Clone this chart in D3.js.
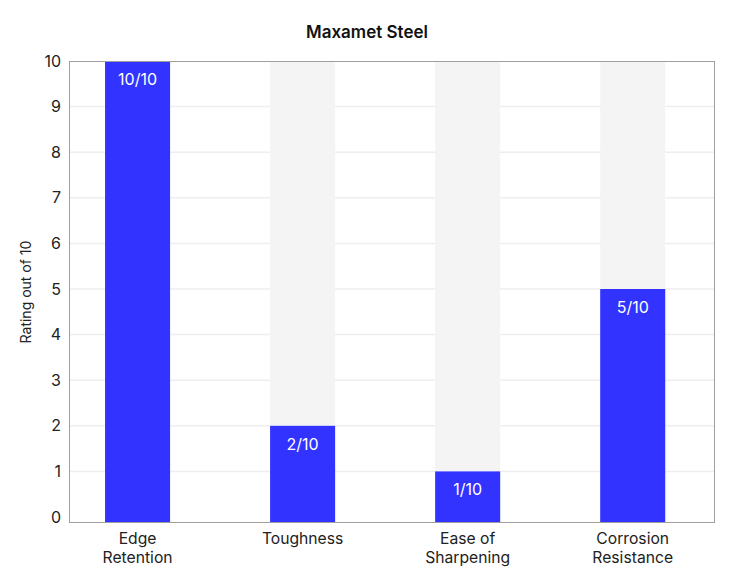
<!DOCTYPE html>
<html>
<head>
<meta charset="utf-8">
<script src="https://cdn.jsdelivr.net/npm/d3@7"></script>
<style>
  html, body { margin: 0; padding: 0; background: #fff; }
  svg { display: block; font-family: Inter, "Noto Sans", sans-serif; }
</style>
</head>
<body>
<svg id="chart" width="736" height="584"></svg>
<script>
const categories = [["Edge", "Retention"], ["Toughness"], ["Ease of", "Sharpening"], ["Corrosion", "Resistance"]];
const ratings = [10, 2, 1, 5];
const maxRating = 10;
const yTicks = [0, 1, 2, 3, 4, 5, 6, 7, 8, 9, 10];
const title = "Maxamet Steel";
const yTitle = "Rating out of 10";

const W = 736, H = 584;
const plot = { left: 69, right: 715, top: 61, bottom: 523 };
const zeroPad = 6;

const svg = d3.select("#chart");
const keys = categories.map(c => c.join(" "));

const x = d3.scaleBand()
  .domain(keys)
  .range([plot.left, plot.right])
  .paddingInner(0.606)
  .paddingOuter(0.26)
  .align(0.42);

const y = d3.scaleLinear()
  .domain([0, maxRating])
  .range([plot.bottom - zeroPad, plot.top]);

// gridlines
svg.append("g")
  .selectAll("line")
  .data(yTicks.filter(t => t > 0 && t < maxRating))
  .join("line")
  .attr("x1", plot.left).attr("x2", plot.right)
  .attr("y1", d => y(d)).attr("y2", d => y(d))
  .attr("stroke", "#eeeeee")
  .attr("stroke-width", 1.5);

// background bars
svg.append("g")
  .selectAll("rect")
  .data(keys)
  .join("rect")
  .attr("x", d => x(d))
  .attr("width", x.bandwidth())
  .attr("y", y(maxRating))
  .attr("height", plot.bottom - y(maxRating))
  .attr("fill", "#f4f4f4");

// value bars
const data = keys.map((k, i) => ({ k, v: ratings[i] }));
svg.append("g")
  .selectAll("rect")
  .data(data)
  .join("rect")
  .attr("x", d => x(d.k))
  .attr("width", x.bandwidth())
  .attr("y", d => y(d.v))
  .attr("height", d => plot.bottom - y(d.v))
  .attr("fill", "#3333ff");

// value labels
svg.append("g")
  .selectAll("text")
  .data(data)
  .join("text")
  .attr("x", d => x(d.k) + x.bandwidth() / 2)
  .attr("y", d => y(d.v) + 24)
  .attr("text-anchor", "middle")
  .attr("fill", "#ffffff")
  .attr("font-size", 16)
  .text(d => `${d.v}/${maxRating}`);

// border
svg.append("rect")
  .attr("x", plot.left + 0.5).attr("y", plot.top + 0.5)
  .attr("width", plot.right - plot.left - 1)
  .attr("height", plot.bottom - plot.top - 1)
  .attr("fill", "none")
  .attr("stroke", "#a0a0a0")
  .attr("stroke-width", 1);

// y axis
const yAxis = svg.append("g")
  .attr("transform", `translate(${plot.left},0)`)
  .call(d3.axisLeft(y).tickValues(yTicks).tickSize(0).tickPadding(8));
yAxis.select(".domain").remove();
yAxis.selectAll("text")
  .attr("font-size", 16)
  .attr("font-family", "Inter, sans-serif")
  .attr("fill", "#222");

// x labels
const xl = svg.append("g")
  .selectAll("text")
  .data(categories)
  .join("text")
  .attr("x", (d, i) => x(keys[i]) + x.bandwidth() / 2)
  .attr("y", 544)
  .attr("text-anchor", "middle")
  .attr("font-size", 15.7)
  .attr("fill", "#222");
xl.selectAll("tspan")
  .data(d => d)
  .join("tspan")
  .attr("x", function () { return d3.select(this.parentNode).attr("x"); })
  .attr("dy", (d, i) => i === 0 ? 0 : 18.5)
  .text(d => d);

// title
svg.append("text")
  .attr("x", (plot.left + plot.right) / 2 - 25)
  .attr("y", 38)
  .attr("text-anchor", "middle")
  .attr("font-size", 17)
  .attr("font-weight", 600)
  .attr("fill", "#111")
  .text(title);

// y title
svg.append("text")
  .attr("transform", `translate(31,${(plot.top + plot.bottom) / 2}) rotate(-90)`)
  .attr("text-anchor", "middle")
  .attr("font-size", 14)
  .attr("fill", "#222")
  .text(yTitle);
</script>
</body>
</html>
